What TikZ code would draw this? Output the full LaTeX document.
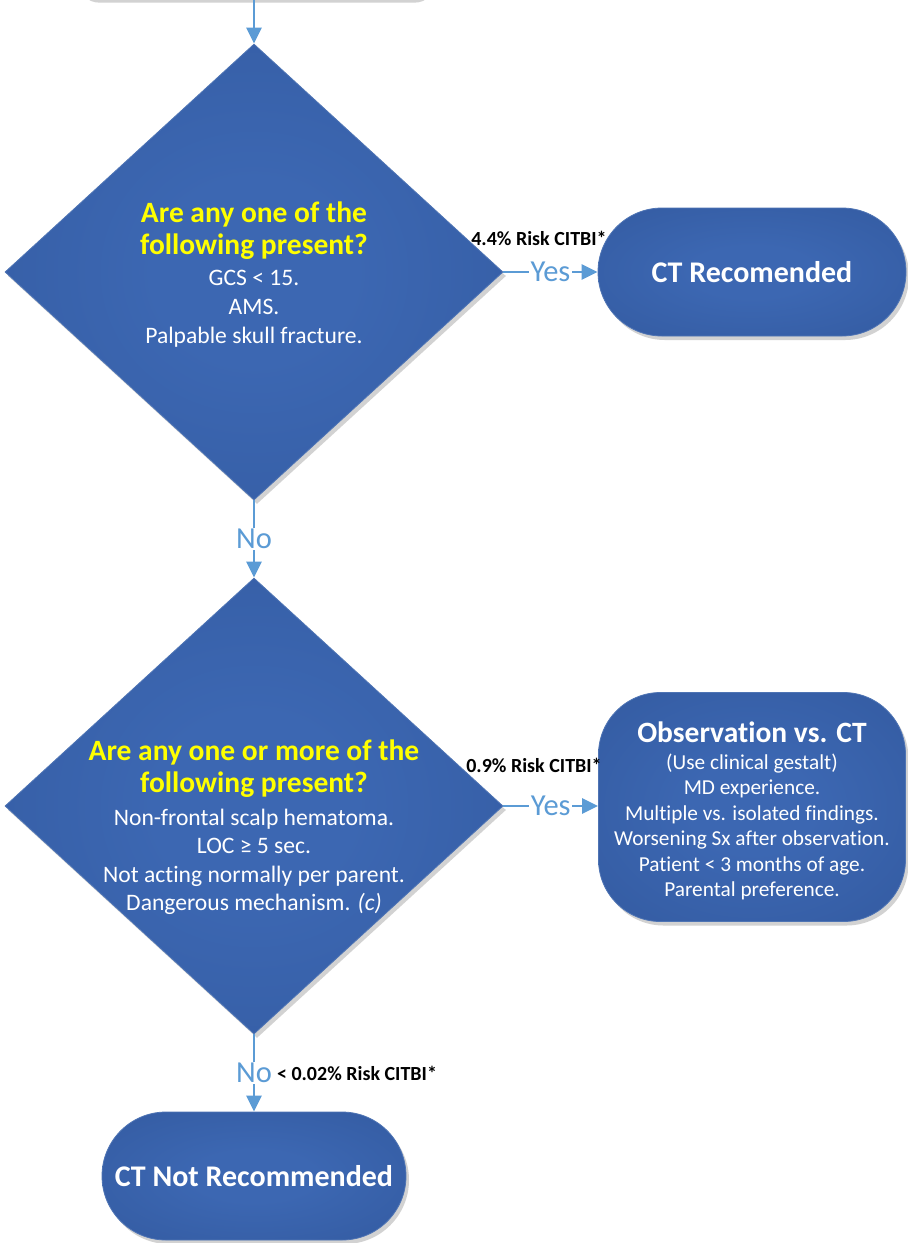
\documentclass[tikz,border=0pt]{standalone}
\usepackage{fontspec}
\setmainfont{Carlito}[Ligatures=NoCommon]
\usetikzlibrary{shapes.geometric,arrows.meta,shadows}
\definecolor{lite}{RGB}{60,103,178}
\definecolor{dark}{RGB}{44,80,146}
\definecolor{edge}{RGB}{78,116,180}
\definecolor{arrc}{RGB}{91,155,213}
\definecolor{ylw}{RGB}{255,255,0}
\pgfdeclareradialshading{glow}{\pgfpoint{0bp}{0bp}}{color(0bp)=(lite); color(10bp)=(lite); color(60bp)=(dark); color(80bp)=(dark)}
\tikzset{
  box/.style={shade, shading=glow, draw=edge, line width=0.8pt, inner sep=0pt,
    drop shadow={shadow xshift=3pt, shadow yshift=-4pt, opacity=0.25, fill=black!70}},
  dmd/.style={box, diamond, minimum width=498pt, minimum height=456pt},
  stad/.style={box, rectangle, rounded corners=64pt, minimum height=128pt,
    text=white, font=\fontsize{30}{36}\selectfont\bfseries},
  arr/.style={draw=arrc, line width=2.5pt, -{Triangle[length=16pt,width=15pt]}},
  lbl/.style={fill=white, inner sep=1.5pt, text=arrc, font=\fontsize{30.5}{36}\selectfont},
  risk/.style={font=\fontsize{20}{24}\selectfont\bfseries, text=black, inner sep=0pt},
  ttl/.style={text=ylw, font=\fontsize{29.5}{32}\selectfont\bfseries, align=center, inner sep=0pt},
  bodytxt/.style={text=white, font=\fontsize{23.6}{29}\selectfont, align=center, inner sep=0pt}
}
\begin{document}
\begin{tikzpicture}[x=1pt,y=-1pt]
\useasboundingbox (0,0) rectangle (908,1243);
\fill[white] (0,0) rectangle (908,1243);

% partial box at the top
\node[box, rounded corners=20pt, minimum width=356pt, minimum height=80pt, anchor=south] (top) at (254,-1) {};

% decision 1
\node[dmd] (d1) at (254,272) {};
\node[ttl] (t1) at (254,231) {Are any one of the\\following present?};
\node[bodytxt] (b1) at (254,309) {GCS < 15.\\AMS.\\Palpable skull fracture.};

% CT recommended
\node[stad, minimum width=308pt] (ct) at (752,272) {CT Recomended};

% decision 2
\node[dmd] (d2) at (254,806) {};
\node[ttl] (t2) at (254,769) {Are any one or more of the\\following present?};
\node[bodytxt, font=\fontsize{23.6}{28.5}\selectfont] (b2) at (254,862) {Non-frontal scalp hematoma.\\LOC ≥ 5 sec.\\Not acting normally per parent.\\Dangerous mechanism. \textit{(c)}};

% observation vs CT
\node[box, rectangle, rounded corners=62pt, minimum width=307pt, minimum height=229pt] (obs) at (752,807) {};
\node[ttl, text=white] (ot) at (752,732) {Observation vs. CT};
\node[bodytxt, font=\fontsize{21.3}{25.4}\selectfont] (ob) at (752,827) {(Use clinical gestalt)\\MD experience.\\Multiple vs. isolated findings.\\Worsening Sx after observation.\\Patient < 3 months of age.\\Parental preference.};

% CT not recommended
\node[stad, minimum width=304pt] (ctn) at (254,1176) {CT Not Recommended};

% connectors
\draw[arr] (top.south) -- (d1.north);
\draw[arr] (d1.east) -- node[lbl] (y1) {Yes} (d1.east -| ct.west);
\draw[arr] (d1.south) -- node[lbl] (n1) {No} (d2.north);
\draw[arr] (d2.east) -- node[lbl] (y2) {Yes} (d2.east -| obs.west);
\draw[arr] (d2.south) -- node[lbl] (n2) {No} (ctn.north);

% risk labels
\node[risk] (r1) at (539,238) {4.4\% Risk CITBI*};
\node[risk] (r2) at (534,765) {0.9\% Risk CITBI*};
\node[risk] (r3) at (357,1073) {< 0.02\% Risk CITBI*};
\end{tikzpicture}
\end{document}
